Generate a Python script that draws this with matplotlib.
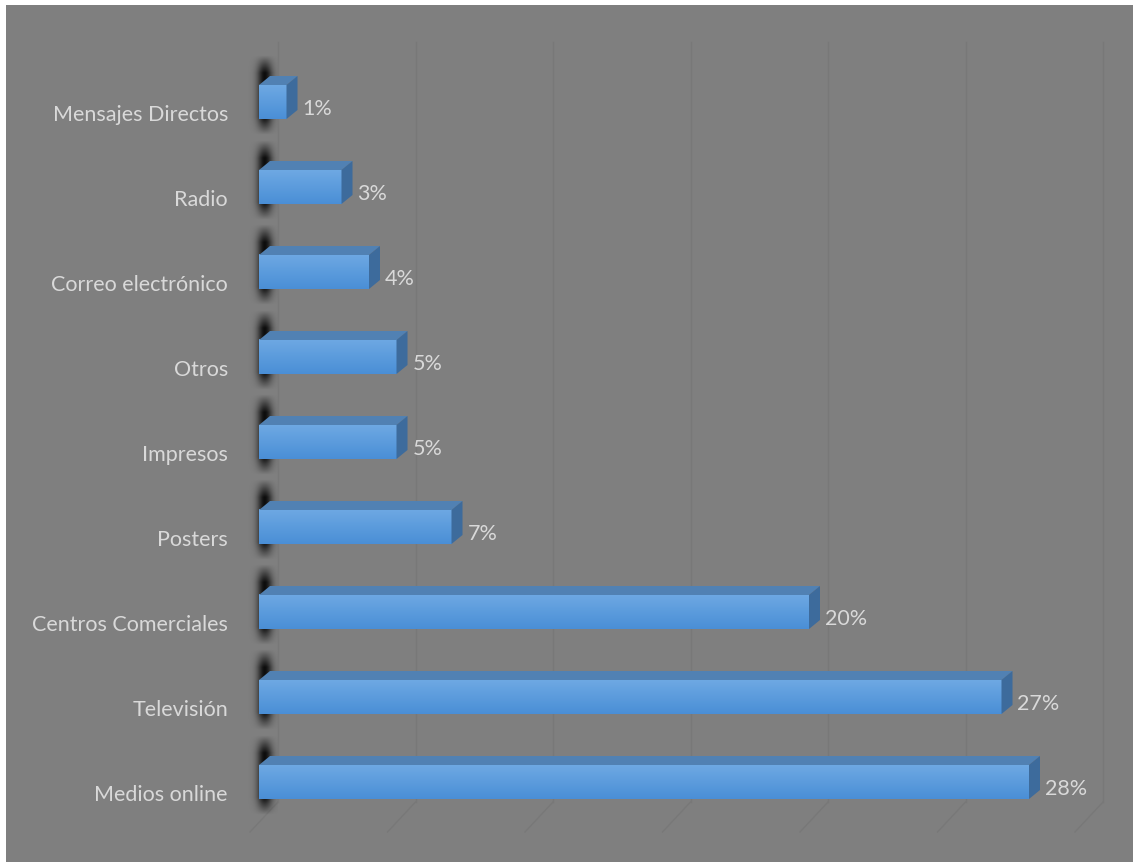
import numpy as np
import matplotlib.pyplot as plt
from matplotlib.patches import Polygon, Rectangle

# data (top to bottom as in the chart)
categories = ['Mensajes Directos', 'Radio', 'Correo electrónico', 'Otros', 'Impresos',
              'Posters', 'Centros Comerciales', 'Televisión', 'Medios online']
values = [1, 3, 4, 5, 5, 7, 20, 27, 28]
value_labels = ['1%', '3%', '4%', '5%', '5%', '7%', '20%', '27%', '28%']
grid_ticks = [0, 5, 10, 15, 20, 25, 30]

W, H = 1133, 863
PX_X = 27.5   # pixels per percent
PX_Y = 85.0   # pixels per category
X0, Y0 = 259, 81  # pixel position of value 0 / bottom category (from bottom)

plt.rcParams['font.family'] = ['Lato', 'DejaVu Sans']
fig = plt.figure(figsize=(W / 100, H / 100), dpi=100)
fig.patch.set_facecolor('white')
fig.patches.append(Rectangle((6 / W, 1 / H), 1, (H - 6) / H, transform=fig.transFigure,
                             facecolor='#7f7f7f', edgecolor='none', zorder=-10))
ax = fig.add_axes([0, 0, 1, 1])
ax.set_facecolor('none')
ax.axis('off')


def px(dx, dy):
    return dx / PX_X, dy / PX_Y


# back wall grid lines and floor
wall_dx, _ = px(19, 0)
_, wall_base = px(0, 863 - 802 - Y0)
_, wall_top = px(0, 863 - 42 - Y0)
_, floor_front = px(0, 863 - 832 - Y0)
floor_dx, _ = px(-9, 0)
for t in grid_ticks:
    ax.plot([t + wall_dx, t + wall_dx], [wall_base, wall_top], color='#787878', lw=1, zorder=1)
    ax.plot([t + wall_dx, t + floor_dx], [wall_base, floor_front], color='#787878', lw=1, zorder=1)

n = len(categories)
bar_h = 34 / PX_Y
ddx, ddy = px(11, 9)

# shadow image grid (pixels relative to X0, and fraction of height)
sx = np.linspace(-22, 19, 60)
sy = np.linspace(0, 1, 100)
SX, SY = np.meshgrid(sx, sy)
edge = np.clip(np.minimum(SY, 1 - SY) / 0.22, 0, 1)
alpha = np.exp(-((SX - 6) / 7.5) ** 2) * edge
shadow = np.zeros(SX.shape + (4,))
shadow[..., 3] = alpha * 0.9

grad = np.linspace(0, 1, 50).reshape(-1, 1)
top_col = np.array([0.43, 0.66, 0.89])
bot_col = np.array([0.29, 0.56, 0.84])
grad_img = (bot_col * (1 - grad) + top_col * grad)[:, None, :]

for i, (cat, v, lab) in enumerate(zip(categories, values, value_labels)):
    c = n - 1 - i
    y_lo, y_hi = c - bar_h / 2, c + bar_h / 2

    # blurred shadow on the wall left of the bar
    ax.imshow(shadow, extent=(-22 / PX_X, 19 / PX_X, y_lo - 16 / PX_Y, y_hi + 30 / PX_Y),
              origin='lower', aspect='auto', zorder=2, interpolation='bilinear')

    # front face with gradient
    ax.imshow(grad_img, extent=(0, v, y_lo, y_hi), origin='lower', aspect='auto',
              zorder=3, interpolation='bilinear')
    # top face
    ax.add_patch(Polygon([(0, y_hi), (v, y_hi), (v + ddx, y_hi + ddy), (ddx, y_hi + ddy)],
                         closed=True, facecolor='#5181b3', edgecolor='none', zorder=3))
    # right face
    ax.add_patch(Polygon([(v, y_lo), (v + ddx, y_lo + ddy), (v + ddx, y_hi + ddy), (v, y_hi)],
                         closed=True, facecolor='#3d6b9c', edgecolor='none', zorder=3))

    ax.text(-31 / PX_X, c - 13 / PX_Y, cat, ha='right', va='center', fontsize=15.5,
            color='#d9d9d9', zorder=4)
    ax.text(v + ddx + 5 / PX_X, c - 7 / PX_Y, lab, ha='left', va='center', fontsize=15.5,
            color='#d9d9d9', zorder=4)

ax.set_xlim(-X0 / PX_X, (W - X0) / PX_X)
ax.set_ylim(-Y0 / PX_Y, (H - Y0) / PX_Y)

fig.savefig('out.png', dpi=100, facecolor=fig.get_facecolor())
